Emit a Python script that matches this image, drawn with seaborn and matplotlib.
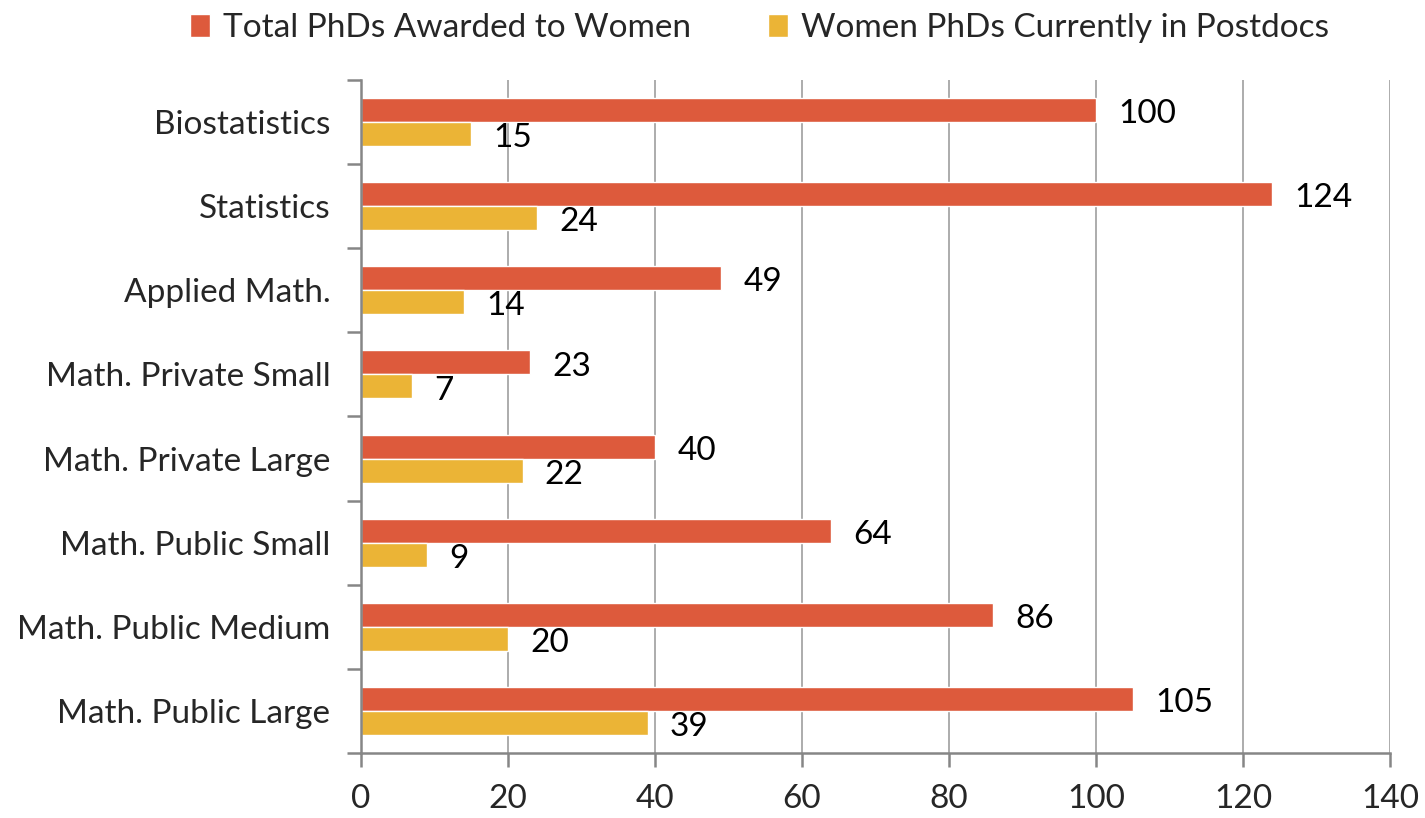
import matplotlib
matplotlib.use("Agg")
import matplotlib.pyplot as plt
import seaborn as sns
import pandas as pd
from matplotlib.ticker import FixedLocator

categories = ["Biostatistics", "Statistics", "Applied Math.", "Math. Private Small",
              "Math. Private Large", "Math. Public Small", "Math. Public Medium",
              "Math. Public Large"]
total_phds = [100, 124, 49, 23, 40, 64, 86, 105]
postdocs = [15, 24, 14, 7, 22, 9, 20, 39]
series_names = ["Total PhDs Awarded to Women", "Women PhDs Currently in Postdocs"]
colors = ["#DD5A3C", "#EBB436"]
x_ticks = [0, 20, 40, 60, 80, 100, 120, 140]

df = pd.DataFrame({
    "Category": categories * 2,
    "Value": total_phds + postdocs,
    "Series": [series_names[0]] * len(categories) + [series_names[1]] * len(categories),
})

sns.set_style("white")
plt.rcParams["font.family"] = ["Lato", "DejaVu Sans"]
FS = 24

fig = plt.figure(figsize=(14.25, 8.18), dpi=100)
ax = fig.add_axes([0.2533, 0.0795, 0.9754 - 0.2533, 0.9022 - 0.0795])

sns.barplot(data=df, y="Category", x="Value", hue="Series", orient="h",
            palette=colors, width=0.57, ax=ax, saturation=1, zorder=2,
            order=categories, hue_order=series_names)

ax.set_xlim(0, 140)
ax.set_ylim(len(categories) - 0.5, -0.5)
ax.set_xticks(x_ticks)
ax.set_xticklabels([str(v) for v in x_ticks], fontsize=FS)
ax.set_yticks(range(len(categories)))
ax.set_yticklabels(categories, fontsize=FS)
ax.set_xlabel("")
ax.set_ylabel("")

ax.grid(axis="x", color="#A6A6A6", linewidth=1.3, zorder=0)
ax.set_axisbelow(True)
for s in ["top", "right"]:
    ax.spines[s].set_visible(False)
for s in ["left", "bottom"]:
    ax.spines[s].set_color("#868686")
    ax.spines[s].set_linewidth(1.8)

ax.tick_params(axis="y", which="major", left=False, length=0, pad=22)
ax.yaxis.set_minor_locator(FixedLocator([i - 0.5 for i in range(len(categories) + 1)]))
ax.tick_params(axis="y", which="minor", left=True, length=10, width=1.8,
               color="#868686", direction="out")
ax.tick_params(axis="x", which="major", bottom=True, length=10, width=1.8,
               color="#868686", direction="out", pad=12)

for cont in ax.containers:
    ax.bar_label(cont, labels=[f"{v:g}" for v in cont.datavalues], padding=16,
                 fontsize=FS, color="black")
for t in ax.texts:
    t.set_verticalalignment("center")
    x, y = t.get_position()
    t.set_position((x, y - 3))

leg = ax.legend(loc="upper center", bbox_to_anchor=(0.533, 1.0),
                bbox_transform=fig.transFigure, ncol=2, frameon=False, fontsize=FS,
                handlelength=0.6, handleheight=0.7, handletextpad=0.4,
                columnspacing=2.3, borderaxespad=0.0)

fig.savefig("out.png", dpi=100)
